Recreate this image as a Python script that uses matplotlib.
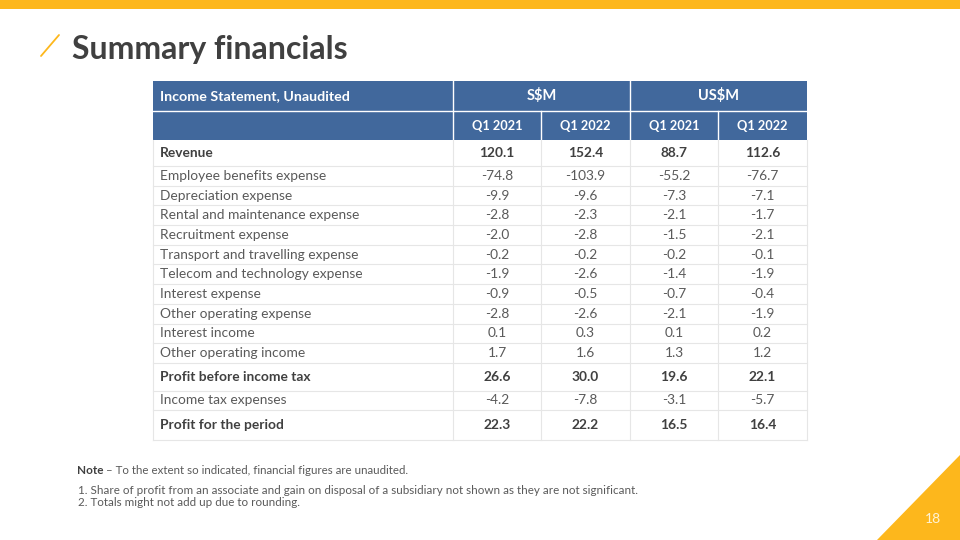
import matplotlib
matplotlib.use("Agg")
import matplotlib.pyplot as plt
from matplotlib.patches import Rectangle, Polygon

# ---------------------------------------------------------------------------
# Data
# ---------------------------------------------------------------------------
title = "Summary financials"
group_labels = ["S$M", "US$M"]
period_labels = ["Q1 2021", "Q1 2022", "Q1 2021", "Q1 2022"]
row_labels = [
    "Revenue",
    "Employee benefits expense",
    "Depreciation expense",
    "Rental and maintenance expense",
    "Recruitment expense",
    "Transport and travelling expense",
    "Telecom and technology expense",
    "Interest expense",
    "Other operating expense",
    "Interest income",
    "Other operating income",
    "Profit before income tax",
    "Income tax expenses",
    "Profit for the period",
]
sgd_q1_2021 = [120.1, -74.8, -9.9, -2.8, -2.0, -0.2, -1.9, -0.9, -2.8, 0.1, 1.7, 26.6, -4.2, 22.3]
sgd_q1_2022 = [152.4, -103.9, -9.6, -2.3, -2.8, -0.2, -2.6, -0.5, -2.6, 0.3, 1.6, 30.0, -7.8, 22.2]
usd_q1_2021 = [88.7, -55.2, -7.3, -2.1, -1.5, -0.2, -1.4, -0.7, -2.1, 0.1, 1.3, 19.6, -3.1, 16.5]
usd_q1_2022 = [112.6, -76.7, -7.1, -1.7, -2.1, -0.1, -1.9, -0.4, -1.9, 0.2, 1.2, 22.1, -5.7, 16.4]
bold_rows = ["Revenue", "Profit before income tax", "Profit for the period"]

note_head = "Note"
note_text = "\u2013 To the extent so indicated, financial figures are unaudited."
note_lines = [
    "1. Share of profit from an associate and gain on disposal of a subsidiary not shown as they are not significant.",
    "2. Totals might not add up due to rounding.",
]
page_number = "18"

# ---------------------------------------------------------------------------
# Layout (pixels)
# ---------------------------------------------------------------------------
YELLOW = "#FDB71C"
BLUE = "#41689C"
GRID = "#E6E6E6"
TXT = "#5A5A5A"
DARK = "#404040"

col_edges = [153, 453, 541, 630, 718, 807]
row_heights = [26] + [19.7] * 10 + [28, 19, 30]
hdr_top, hdr_mid, hdr_bot = 81, 111, 140

plt.rcParams["font.family"] = ["Lato", "DejaVu Sans"]

fig = plt.figure(figsize=(9.6, 5.4), dpi=100)
ax = fig.add_axes([0, 0, 1, 1])
ax.set_xlim(0, 960)
ax.set_ylim(540, 0)
ax.axis("off")

# top bar, slash, title
ax.add_patch(Rectangle((0, 0), 960, 9, color=YELLOW, lw=0))
ax.plot([41, 59], [56, 35], color=YELLOW, lw=1.3, solid_capstyle="round")
ax.text(72, 49, title, fontsize=23, fontweight="bold", color=DARK, va="center", ha="left")

# header rows
ax.add_patch(Rectangle((col_edges[0], hdr_top), col_edges[-1] - col_edges[0],
                       hdr_bot - hdr_top, color=BLUE, lw=0))
for x in [col_edges[1], col_edges[3]]:
    ax.plot([x, x], [hdr_top, hdr_bot], color="white", lw=1)
ax.plot([col_edges[0], col_edges[-1]], [hdr_mid, hdr_mid], color="white", lw=1)
for x in [col_edges[2], col_edges[4]]:
    ax.plot([x, x], [hdr_mid, hdr_bot], color="white", lw=1)

ax.text(col_edges[0] + 7, (hdr_top + hdr_mid) / 2, "Income Statement, Unaudited",
        fontsize=10.3, fontweight="bold", color="white", va="center", ha="left")
for i, g in enumerate(group_labels):
    xc = (col_edges[1 + 2 * i] + col_edges[3 + 2 * i]) / 2
    ax.text(xc, (hdr_top + hdr_mid) / 2, g, fontsize=10.5, fontweight="bold",
            color="white", va="center", ha="center")
for i, p in enumerate(period_labels):
    xc = (col_edges[1 + i] + col_edges[2 + i]) / 2
    ax.text(xc, (hdr_mid + hdr_bot) / 2 + 1, p, fontsize=9.2, fontweight="bold",
            color="white", va="center", ha="center")

# body
columns = [sgd_q1_2021, sgd_q1_2022, usd_q1_2021, usd_q1_2022]
y = hdr_bot
for r, label in enumerate(row_labels):
    h = row_heights[r]
    yc = y + h / 2
    bold = label in bold_rows
    fw = "bold" if bold else "normal"
    col = DARK if bold else TXT
    ax.text(col_edges[0] + 7, yc, label, fontsize=9.9, fontweight=fw, color=col,
            va="center", ha="left")
    for c, vals in enumerate(columns):
        xc = (col_edges[1 + c] + col_edges[2 + c]) / 2
        ax.text(xc, yc, f"{vals[r]:.1f}", fontsize=9.9, fontweight=fw, color=col,
                va="center", ha="center")
    y += h
    ax.plot([col_edges[0], col_edges[-1]], [y, y], color=GRID, lw=0.8)
for x in col_edges:
    ax.plot([x, x], [hdr_bot, y], color=GRID, lw=0.8)

# footnotes
ax.text(77, 471, note_head, fontsize=8.5, fontweight="bold", color=DARK, va="center", ha="left")
ax.text(106, 471, note_text, fontsize=8.3, color=TXT, va="center", ha="left")
for i, line in enumerate(note_lines):
    ax.text(78, 490 + i * 13, line, fontsize=8.4, color=TXT, va="center", ha="left")

# corner triangle and page number
ax.add_patch(Polygon([[877, 540], [960, 455], [960, 540]], closed=True, color=YELLOW, lw=0))
ax.text(933, 519, page_number, fontsize=10, color="#FFF3D6", va="center", ha="center")

fig.savefig("out.png", dpi=100)
